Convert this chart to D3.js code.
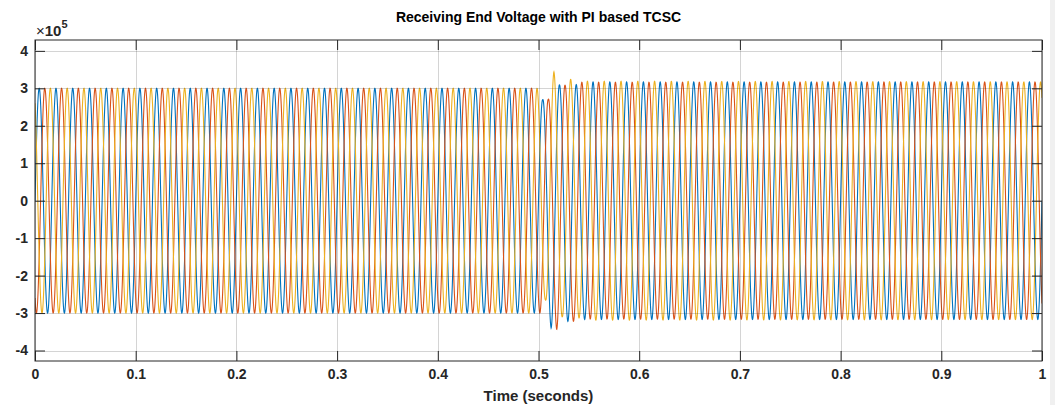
<!DOCTYPE html>
<html>
<head>
<meta charset="utf-8">
<script src="https://cdn.jsdelivr.net/npm/d3@7"></script>
<style>
  html, body { margin: 0; padding: 0; background: #fff; }
  svg { display: block; }
  text { font-family: "Liberation Sans", Arial, Helvetica, sans-serif; }
</style>
</head>
<body>
<svg id="chart" width="1055" height="405"></svg>
<script>
// ---- data (voltage in units of 1e5 V) ----
const timeTicks = [0, 0.1, 0.2, 0.3, 0.4, 0.5, 0.6, 0.7, 0.8, 0.9, 1];
const voltTicks = [-4, -3, -2, -1, 0, 1, 2, 3, 4];
const frequencyHz = 60;
const phaseNames = ["Va", "Vb", "Vc"];
const phaseShiftDeg = [0, -120, 120];
const phaseColors = ["#0072BD", "#D95319", "#EDB120"];
// peak-magnitude envelope read at successive half-cycle peaks
const envTimesA = [0, 0.4958, 0.5042, 0.5125, 0.5208, 0.5292, 0.5375, 0.5458, 1];
const envAmpsA  = [3.0, 3.0, 2.69, 3.40, 3.09, 3.22, 3.10, 3.17, 3.17];
const envTimesB = [0, 0.5014, 0.5097, 0.5181, 0.5264, 0.5347, 0.5431, 1];
const envAmpsB  = [3.0, 3.0, 2.70, 3.44, 3.08, 3.22, 3.16, 3.17];
const envTimesC = [0, 0.4986, 0.5069, 0.5153, 0.5236, 0.5319, 0.5403, 0.5486, 1];
const envAmpsC  = [3.0, 3.0, 2.64, 3.44, 3.10, 3.24, 3.13, 3.19, 3.17];
const sampleStep = 1 / 6000;

// ---- layout ----
const svg = d3.select("#chart");
const L = 35, R = 1042, T = 40, B = 361;
const x = d3.scaleLinear().domain([0, 1]).range([L, R]);
const y = d3.scaleLinear().domain([-4.28, 4.29]).range([B, T]);
const axisColor = "#262626";

svg.append("rect").attr("x", 1050).attr("y", 0).attr("width", 5).attr("height", 405).attr("fill", "#f0f0f0");

const envelopes = [
  d3.scaleLinear().domain(envTimesA).range(envAmpsA).clamp(true),
  d3.scaleLinear().domain(envTimesB).range(envAmpsB).clamp(true),
  d3.scaleLinear().domain(envTimesC).range(envAmpsC).clamp(true)
];
const times = d3.range(0, 1 + sampleStep / 2, sampleStep);
const series = phaseNames.map((name, i) => ({
  name,
  color: phaseColors[i],
  values: times.map(t => ({
    t,
    v: envelopes[i](t) * Math.sin(2 * Math.PI * frequencyHz * t + phaseShiftDeg[i] * Math.PI / 180)
  }))
}));

svg.append("defs").append("clipPath").attr("id", "clip")
  .append("rect").attr("x", L).attr("y", T).attr("width", R - L).attr("height", B - T);

const line = d3.line().x(d => x(d.t)).y(d => y(d.v));
svg.append("g").attr("clip-path", "url(#clip)")
  .selectAll("path").data(series).enter().append("path")
  .attr("d", d => line(d.values))
  .attr("fill", "none")
  .attr("stroke", d => d.color)
  .attr("stroke-width", 1.1);

// grid (drawn above data, translucent like MATLAB)
const grid = svg.append("g").attr("stroke", "rgba(38,38,38,0.2)").attr("stroke-width", 1);
grid.selectAll("line.gx").data(timeTicks).enter().append("line")
  .attr("x1", d => Math.round(x(d)) + 0.5).attr("x2", d => Math.round(x(d)) + 0.5)
  .attr("y1", T).attr("y2", B);
grid.selectAll("line.gy").data(voltTicks).enter().append("line")
  .attr("y1", d => Math.round(y(d)) + 0.5).attr("y2", d => Math.round(y(d)) + 0.5)
  .attr("x1", L).attr("x2", R);

// axes with inward ticks, mirrored
const tickLen = 10;
const fontTick = "bold 14px 'Liberation Sans', Arial, sans-serif";
const xAxisB = d3.axisBottom(x).tickValues(timeTicks).tickSize(-tickLen).tickPadding(8).tickFormat(d => String(d));
const xAxisT = d3.axisTop(x).tickValues(timeTicks).tickSize(-tickLen).tickFormat("");
const yAxisL = d3.axisLeft(y).tickValues(voltTicks).tickSize(-tickLen).tickPadding(7).tickFormat(d => String(d));
const yAxisR = d3.axisRight(y).tickValues(voltTicks).tickSize(-tickLen).tickFormat("");

function styleAxis(g) {
  g.select(".domain").attr("stroke", axisColor).attr("stroke-width", 1);
  g.selectAll(".tick line").attr("stroke", axisColor).attr("stroke-width", 1);
  g.selectAll(".tick text").attr("fill", axisColor).style("font", fontTick);
}
svg.append("g").attr("transform", `translate(0,${B})`).call(xAxisB).call(styleAxis);
svg.append("g").attr("transform", `translate(0,${T})`).call(xAxisT).call(styleAxis);
svg.append("g").attr("transform", `translate(${L},0)`).call(yAxisL).call(styleAxis);
svg.append("g").attr("transform", `translate(${R},0)`).call(yAxisR).call(styleAxis);
svg.selectAll(".domain").attr("d", null);
svg.append("rect").attr("x", L).attr("y", T).attr("width", R - L).attr("height", B - T)
  .attr("fill", "none").attr("stroke", axisColor).attr("stroke-width", 1);

// exponent label
const expo = svg.append("text").attr("x", L + 1).attr("y", 36)
  .attr("fill", axisColor).style("font", "15px 'Liberation Sans', Arial, sans-serif");
expo.append("tspan").text("\u00d7");
expo.append("tspan").style("font-weight", "bold").text("10");
expo.append("tspan").attr("dy", -8).style("font-size", "11px").style("font-weight", "bold").text("5");

// title and x label
svg.append("text").attr("x", (L + R) / 2).attr("y", 22).attr("text-anchor", "middle")
  .attr("fill", "#000").style("font", "bold 14px 'Liberation Sans', Arial, sans-serif")
  .text("Receiving End Voltage with PI based TCSC");
svg.append("text").attr("x", (L + R) / 2).attr("y", 401).attr("text-anchor", "middle")
  .attr("fill", axisColor).style("font", "bold 15px 'Liberation Sans', Arial, sans-serif")
  .text("Time (seconds)");
</script>
</body>
</html>
